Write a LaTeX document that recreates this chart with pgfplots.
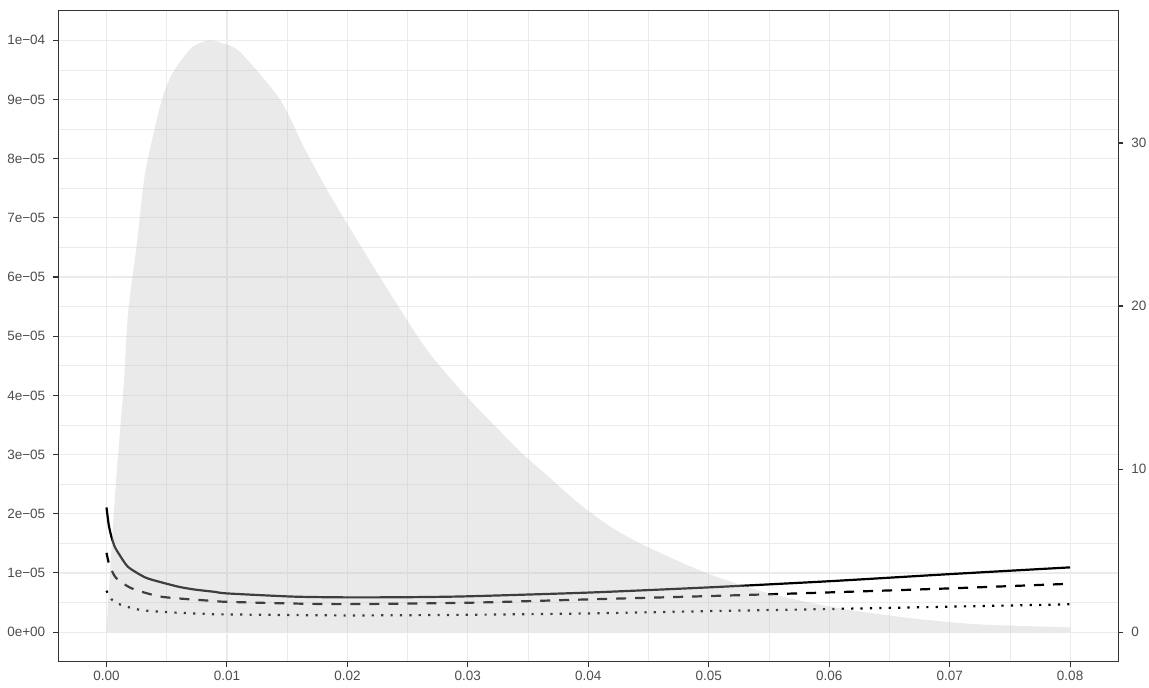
\documentclass[border=0pt]{standalone}
\usepackage{fontspec}
\setmainfont{Liberation Sans}
\usepackage{pgfplots}
\pgfplotsset{compat=1.18}
\definecolor{gridc}{RGB}{235,235,235}
\definecolor{tickc}{RGB}{51,51,51}
\definecolor{labc}{RGB}{77,77,77}
\definecolor{areac}{RGB}{190,190,190}
\begin{document}
\begin{tikzpicture}
\pgfplotsset{
  base/.style={
    scale only axis, width=530pt, height=325.5pt,
    xmin=-0.004, xmax=0.084,
    scaled x ticks=false, scaled y ticks=false,
    tick align=outside, major tick length=2.5pt, minor tick length=0pt,
    tick style={tickc, line width=0.55pt},
    ticklabel style={font=\fontsize{6.75}{8}\selectfont, text=labc},
    axis line style={tickc, line width=0.55pt},
  }
}
\begin{axis}[base,
  name=main,
  ymin=-0.5, ymax=10.5,
  xtick={0,0.01,0.02,0.03,0.04,0.05,0.06,0.07,0.08},
  xticklabels={0.00,0.01,0.02,0.03,0.04,0.05,0.06,0.07,0.08},
  minor xtick={0.005,0.015,0.025,0.035,0.045,0.055,0.065,0.075},
  ytick={0,1,2,3,4,5,6,7,8,9,10},
  yticklabels={0e+00,1e−05,2e−05,3e−05,4e−05,5e−05,6e−05,7e−05,8e−05,9e−05,1e−04},
  minor ytick={0.5,1.5,2.5,3.5,4.5,5.5,6.5,7.5,8.5,9.5},
  xtick pos=left, ytick pos=left,
  grid=both,
  major grid style={gridc, line width=0.6pt},
  minor grid style={gridc, line width=0.3pt},
  xticklabel style={yshift=1.5pt},
  yticklabel style={xshift=-0.5pt},
]
% solid
\addplot[black, line width=1.1pt, smooth, tension=0.4] coordinates {
(0,2.107) (0.00019,1.81) (0.00041,1.61) (0.00069,1.44) (0.0011,1.30) (0.0018,1.10)
(0.0032,0.925) (0.0044,0.85) (0.006,0.766) (0.0073,0.72) (0.009,0.68) (0.01,0.654)
(0.0155,0.60) (0.02,0.587) (0.025,0.59) (0.03,0.605) (0.04,0.668) (0.05,0.756)
(0.06,0.86) (0.07,0.98) (0.08,1.094)};
% dashed
\addplot[black, line width=1.1pt, smooth, tension=0.4, line cap=butt, dash pattern=on 5pt off 4.5pt] coordinates {
(0,1.34) (0.0002,1.16) (0.00042,1.05) (0.00083,0.908) (0.0021,0.739) (0.0046,0.597)
(0.009,0.524) (0.01,0.512) (0.015,0.485) (0.02,0.473) (0.03,0.496) (0.04,0.553) (0.05,0.609)
(0.06,0.671) (0.07,0.739) (0.08,0.817)};
% dotted
\addplot[black, line width=1.1pt, smooth, tension=0.4, line cap=butt, dash pattern=on 1.1pt off 3.6pt] coordinates {
(0,0.70) (0.00042,0.553) (0.00125,0.457) (0.0029,0.372) (0.0054,0.333) (0.0087,0.304)
(0.01,0.299) (0.02,0.282) (0.03,0.293) (0.04,0.316) (0.05,0.355) (0.06,0.39)
(0.07,0.43) (0.08,0.47)};
% density area (drawn on top, translucent)
\addplot[draw=none, fill=areac, fill opacity=0.33, smooth, tension=0.45] coordinates {
(0,0) (0.00008,0.32) (0.00025,0.88) (0.00061,2.0) (0.0008,2.57) (0.00125,3.70)
(0.00146,4.26) (0.00179,5.39) (0.00249,6.51) (0.00312,7.64) (0.0036,8.15)
(0.0046,9.0) (0.0055,9.45) (0.0069,9.84) (0.0077,9.95) (0.0086,10.0) (0.0096,9.95)
(0.0111,9.80) (0.0144,9.0) (0.0165,8.15) (0.0188,7.3) (0.0230,5.9)
(0.0266,4.77) (0.0299,3.98) (0.0343,3.06) (0.0364,2.68) (0.0393,2.16) (0.042,1.76)
(0.0449,1.44) (0.0499,0.99) (0.0551,0.65) (0.0609,0.40) (0.0670,0.23) (0.0725,0.13) (0.08,0.08)
} \closedcycle;
\end{axis}
\begin{axis}[base,
  ymin=-1.815, ymax=38.115,
  axis x line=none, axis y line*=right,
  xtick=\empty,
  ytick={0,10,20,30},
  yticklabels={0,10,20,30},
  yticklabel style={xshift=0.5pt},
]
\addplot[draw=none] coordinates {(0,0)};
\end{axis}
\pgfresetboundingbox
\path (-29.15pt,-12.65pt) rectangle (545.35pt,330.85pt);
\end{tikzpicture}
\end{document}
